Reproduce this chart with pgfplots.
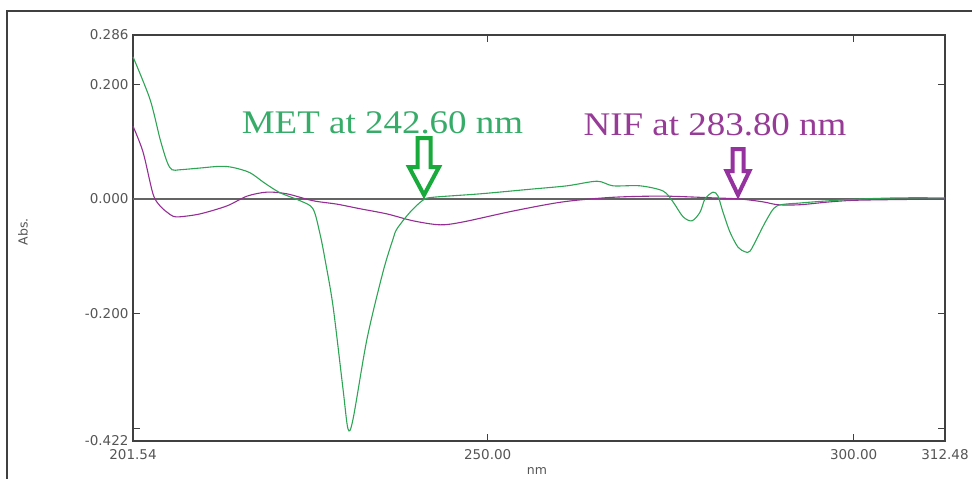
\documentclass[border=0pt]{standalone}
\usepackage{fontspec}
\setmainfont{Liberation Serif}
\newfontfamily\tickfont{DejaVu Sans}
\usepackage{graphicx}
\usepackage{pgfplots}
\pgfplotsset{compat=1.18}
\usetikzlibrary{calc}
\definecolor{metcurve}{RGB}{45,165,85}
\definecolor{nifcurve}{RGB}{150,45,150}
\definecolor{mettext}{RGB}{55,172,105}
\definecolor{niftext}{RGB}{150,60,150}
\definecolor{metarrow}{RGB}{25,170,60}
\definecolor{nifarrow}{RGB}{150,50,160}
\definecolor{zeroline}{RGB}{100,100,100}
\definecolor{lbl}{RGB}{85,85,85}
\begin{document}
\begin{tikzpicture}[x=1pt,y=1pt]
\begin{axis}[
  scale only axis, width=812pt, height=406pt,
  xmin=201.54, xmax=312.48, ymin=-0.422, ymax=0.286,
  axis line style={draw=black!75, line width=1.3pt},
  xtick={201.54,250,300,312.48}, xticklabels={201.54,250.00,300.00,312.48},
  ytick={-0.422,-0.4,-0.2,0,0.2,0.286}, yticklabels={-0.422,,-0.200,0.000,0.200,0.286},
  tick style={black!75, line width=1pt},
  major tick length=7pt,
  tick align=inside,
  ticklabel style={font=\tickfont\fontsize{13.5}{13.5}\selectfont, text=lbl},
  xticklabel style={yshift=-5pt},
  yticklabel style={xshift=-1pt},
  xlabel={nm}, ylabel={Abs.},
  xlabel style={at={(axis description cs:0.4975,-0.074)}, anchor=center, font=\tickfont\fontsize{12.5}{12.5}\selectfont, text=lbl},
  ylabel style={at={(axis description cs:-0.1355,0.515)}, anchor=center, font=\tickfont\fontsize{12.5}{12.5}\selectfont, text=lbl},
  clip=false,
]
\addplot[zeroline, line width=2.6pt] coordinates {(201.54,0) (312.48,0)};
% NIF
\addplot[nifcurve, line width=1.1pt, smooth, tension=0.5] coordinates {
(201.54,0.127) (202.91,0.082) (204.27,0.009) (205.23,-0.012) (206.19,-0.023)
(207.01,-0.030) (207.96,-0.031) (210.69,-0.026) (214.38,-0.012) (217.12,0.005)
(219.85,0.012) (222.58,0.009) (226.13,-0.003) (229.41,-0.009) (232.56,-0.017)
(236.24,-0.026) (239.80,-0.038) (243.49,-0.045) (246.63,-0.040) (253.46,-0.021)
(260.29,-0.005) (267.12,0.003) (273.95,0.005) (280.79,0.002) (284.47,0.000)
(287.62,-0.005) (289.67,-0.010) (292.67,-0.010) (296.77,-0.005) (300.87,-0.002)
(312.48,0.000)};
% MET
\addplot[metcurve, line width=1.1pt, smooth, tension=0.5] coordinates {
(201.54,0.248) (203.86,0.174) (205.23,0.105) (206.19,0.065) (206.87,0.051)
(207.96,0.051) (210.69,0.054) (213.43,0.057) (215.20,0.055) (217.50,0.046)
(219.50,0.028) (221.62,0.011) (224.36,-0.003) (226.13,-0.017) (227.09,-0.061)
(227.77,-0.105) (228.87,-0.187) (230.23,-0.331) (230.92,-0.401) (231.60,-0.384)
(233.51,-0.244) (235.70,-0.127) (237.06,-0.070) (237.61,-0.052) (239.39,-0.023)
(241.16,-0.002) (242.53,0.003) (248.95,0.009) (255.78,0.017) (260.84,0.023)
(264.94,0.031) (267.12,0.023) (270.81,0.023) (273.95,0.014) (275.32,-0.005)
(276.69,-0.031) (277.92,-0.038) (279.01,-0.023) (279.69,0.000) (280.79,0.012)
(281.47,0.005) (282.15,-0.023) (283.11,-0.058) (284.20,-0.084) (285.16,-0.092)
(285.84,-0.091) (286.94,-0.065) (288.16,-0.035) (289.53,-0.012) (292.67,-0.007)
(296.77,-0.003) (300.87,0.000) (306.34,0.002) (312.48,0.002)};
\coordinate (gtip) at (axis cs:241.30,0);
\coordinate (ptip) at (axis cs:284.20,0);
\node[anchor=base, text=mettext, font=\fontsize{33}{33}\selectfont, inner sep=0pt] at (axis cs:235.63,0.1134) {\scalebox{1.12}[1]{MET at 242.60 nm}};
\node[anchor=base, text=niftext, font=\fontsize{33}{33}\selectfont, inner sep=0pt] at (axis cs:281.06,0.110) {\scalebox{1.12}[1]{NIF at 283.80 nm}};
\end{axis}
\begin{scope}[shift={(gtip)}]
\draw[metarrow, line width=4pt, fill=white, line join=miter]
  (0,4) -- (-15,32) -- (-6.5,32) -- (-6.5,61) -- (6.5,61) -- (6.5,32) -- (15,32) -- cycle;
\end{scope}
\begin{scope}[shift={(ptip)}]
\draw[nifarrow, line width=4pt, fill=white, line join=miter]
  (0,4) -- (-11.5,28) -- (-5.5,28) -- (-5.5,50) -- (5.5,50) -- (5.5,28) -- (11.5,28) -- cycle;
\end{scope}
\draw[black!75, line width=2pt] (-126,-45) rectangle (845,430);
\pgfresetboundingbox
\path[use as bounding box] (-133,-38) rectangle (839,441);
\end{tikzpicture}
\end{document}
